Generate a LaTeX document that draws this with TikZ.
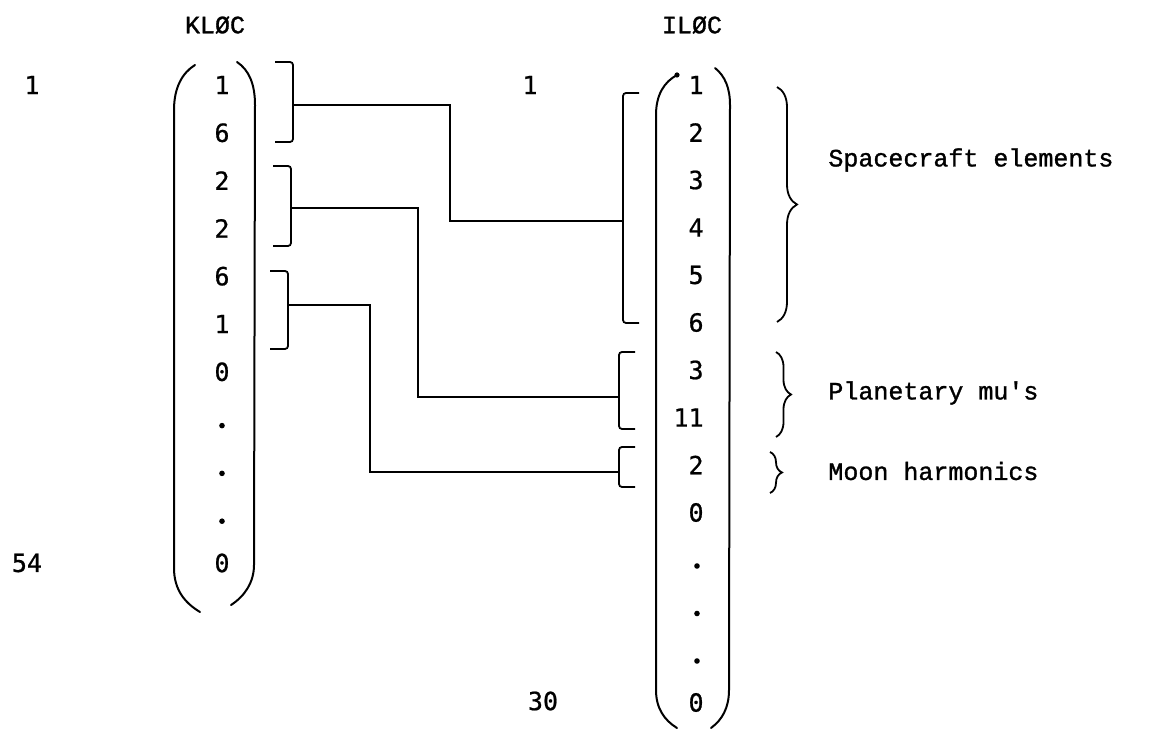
\documentclass[tikz,border=0pt]{standalone}
\usepackage{fontspec}
\usepackage{tikz}
\usetikzlibrary{
  positioning,
  calc,
  decorations.pathreplacing
}
\newfontfamily\typefont[FakeBold=1.2]{Liberation Mono}
\newfontfamily\digitfont[FakeBold=0.8]{DejaVu Sans Mono}
\tikzset{
  head/.style={font=\typefont\fontsize{12.5}{14}\selectfont, inner sep=1pt},
  idx/.style={font=\digitfont\fontsize{12.5}{14}\selectfont, inner sep=1pt},
  entry/.style={font=\digitfont\fontsize{12.5}{14}\selectfont, inner sep=1pt},
  gapdot/.style={circle, fill, inner sep=0pt, minimum size=2.8pt},
  paren/.style={line width=1pt, line cap=round},
  bracket/.style={line width=0.9pt, rounded corners=1.5pt},
  link/.style={line width=0.75pt},
  curly/.style={decorate, decoration={brace, amplitude=#1}, line width=0.9pt},
  groupname/.style={font=\typefont\fontsize{12.5}{14}\selectfont, anchor=west, inner sep=0pt}
}

\begin{document}
\begin{tikzpicture}[x=0.5pt, y=-0.5pt]
  \useasboundingbox (0,0) rectangle (1152,731);

  % column headings and index marks
  \node[head] (klochead) at (215,25) {KLØC};
  \node[head] (ilochead) at (692,25) {ILØC};
  \node[idx] (kfirst) at (32,85) {1};
  \node[idx] (klast) at (27,563) {54};
  \node[idx] (ifirst) at (530,85) {1};
  \node[idx] (ilast) at (543,701) {30};

  % KLOC vector
  \foreach \r/\v in {0/1, 1/6, 2/2, 3/2, 4/6, 5/1, 6/0, 10/0}
    \node[entry] (k\r) at (222, 85+47.8*\r) {\v};
  \foreach \r in {7,8,9}
    \node[gapdot] (k\r) at (222, 91+47.8*\r) {};
  \draw[paren] (195,65) .. controls (182,73) and (174,88) .. (174,110)
    -- (174,568) .. controls (174,590) and (185,603) .. (200,612);
  \draw[paren] (237,62) .. controls (249,70) and (255,84) .. (255,105)
    -- (254,565) .. controls (254,582) and (245,596) .. (231,605);

  % ILOC vector
  \foreach \r/\v in {0/1, 1/2, 2/3, 3/4, 4/5, 5/6, 6/3, 7/11, 8/2, 9/0, 13/0}
    \node[entry, anchor=east] (i\r) at (706, 85+47.5*\r) {\v};
  \foreach \r in {10,11,12}
    \node[gapdot] (i\r) at (697, 91+47.5*\r) {};
  \draw[paren] (677,75) .. controls (664,82) and (656,95) .. (656,115)
    -- (656,690) .. controls (656,708) and (664,720) .. (677,728);
  \fill (677,75) circle (2.6);
  \draw[paren] (715,68) .. controls (725,76) and (730,88) .. (730,105)
    -- (729,690) .. controls (729,708) and (722,720) .. (711,728);

  % brackets on KLOC
  \foreach \n/\x/\ya/\yb/\ym in {1/293/62/142/105, 2/291/166/246/208, 3/288/271/349/305} {
    \draw[bracket] (\x-18,\ya) -- (\x,\ya) -- (\x,\yb) -- (\x-18,\yb);
    \coordinate (kb\n) at (\x,\ym);
  }
  % brackets on ILOC
  \foreach \n/\x/\ya/\yb/\ym in {1/623/93/323/221, 2/619/352/429/397, 3/619/447/487/472} {
    \draw[bracket] (\x+16,\ya) -- (\x,\ya) -- (\x,\yb) -- (\x+16,\yb);
    \coordinate (ib\n) at (\x,\ym);
  }

  % connectors
  \foreach \n/\tx/\w in {1/450/1.1pt, 2/418/0.75pt, 3/370/0.75pt}
    \draw[link, line width=\w] (kb\n) -| (\tx,0 |- ib\n) -- (ib\n);

  % groups
  \draw[curly=10pt] (777,87) -- (777,322);
  \draw[curly=7.5pt] (776,352) -- (776,437);
  \draw[curly=6pt] (770,452) -- (770,493);
  \node[groupname] (scelem) at (828,160) {Spacecraft elements};
  \node[groupname] (planmu) at (828,393) {Planetary mu's};
  \node[groupname] (moonharm) at (828,471) {Moon harmonics};
\end{tikzpicture}
\end{document}
